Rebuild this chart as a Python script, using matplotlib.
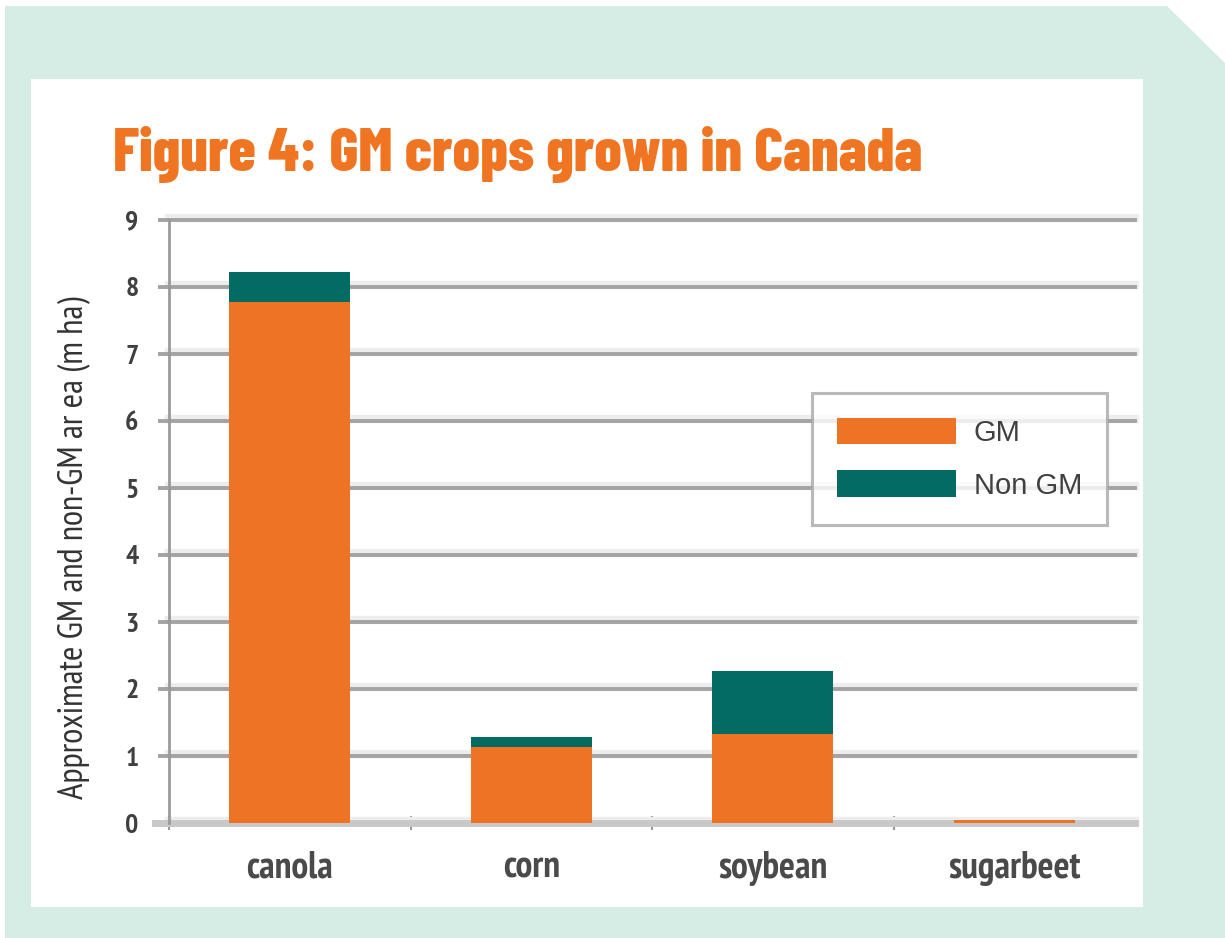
import matplotlib
matplotlib.use("Agg")
import matplotlib.pyplot as plt
import matplotlib.patheffects as pe
from matplotlib.patches import Polygon, Rectangle

W, H = 1225, 938

crops = ["canola", "corn", "soybean", "sugarbeet"]
gm = [7.78, 1.14, 1.33, 0.04]
non_gm = [0.45, 0.14, 0.94, 0.0]
yticks = [0, 1, 2, 3, 4, 5, 6, 7, 8, 9]

ORANGE = "#EF7325"
TEAL = "#046B63"
MINT = "#D6EDE6"
GRID = "#A3A3A3"
TITLE_FONT = ["Barlow Condensed", "DejaVu Sans"]
NARROW = ["PT Sans Narrow", "DejaVu Sans"]


def fx(x):
    return x / W


def fy(y):
    return 1 - y / H


fig = plt.figure(figsize=(W / 100, H / 100), dpi=100, facecolor="white")

# mint frame with the clipped top-right corner, then the white panel
frame = [(5, 6), (1167, 6), (1225, 63), (1225, 938), (5, 938)]
fig.patches.append(Polygon([(fx(x), fy(y)) for x, y in frame], closed=True,
                           transform=fig.transFigure, facecolor=MINT, edgecolor="none", zorder=-2))
fig.patches.append(Rectangle((fx(31), fy(907)), fx(1143) - fx(31), fy(79) - fy(907),
                             transform=fig.transFigure, facecolor="white", edgecolor="none", zorder=-1))

fig.text(fx(113), fy(171), "Figure 4: GM crops grown in Canada", family=TITLE_FONT,
         weight=800, stretch="condensed", fontsize=44, color="#F07522", ha="left", va="baseline")

ax = fig.add_axes([fx(169), fy(823), fx(1135) - fx(169), fy(220) - fy(823)])
ax.set_facecolor("none")

x = range(len(crops))
ax.bar(x, gm, width=0.5, color=ORANGE, label="GM", zorder=3)
ax.bar(x, non_gm, width=0.5, bottom=gm, color=TEAL, label="Non GM", zorder=3)

ax.set_xlim(-0.5, len(crops) - 0.5)
ax.set_ylim(0, 9)
ax.set_yticks(yticks)
ax.set_axisbelow(True)
ax.yaxis.grid(True, color=GRID, lw=2.8)
for ln in ax.get_ygridlines():
    ln.set_clip_on(False)
    ln.set_path_effects([pe.Stroke(linewidth=6, foreground="#EDEDED", offset=(0, 1.5)), pe.Normal()])

# light baseline at zero
ax.axhline(0, xmin=-0.015, xmax=1, color="#C8C8C8", lw=5, clip_on=False, zorder=2)

for side in ["top", "right", "bottom"]:
    ax.spines[side].set_visible(False)
ax.spines["left"].set_color("#9A9A9A")
ax.spines["left"].set_linewidth(2.0)

ax.tick_params(axis="y", length=8, width=2.8, color=GRID, pad=14,
               labelsize=20, labelcolor="#404040")
for lab in ax.get_yticklabels():
    lab.set_family(NARROW)
    lab.set_weight("bold")
    lab.set_stretch("condensed")

ax.set_xticks(list(x))
ax.set_xticklabels(crops, family=NARROW, weight="bold", stretch="condensed", fontsize=27, color="#4A4A4A")
ax.tick_params(axis="x", which="major", length=0, pad=20)
ax.set_xticks([-0.5, 0.5, 1.5, 2.5], minor=True)
ax.tick_params(axis="x", which="minor", direction="inout", length=10, width=1.5, color="#999999")

fig.text(fx(74), fy(548), "Approximate GM and non-GM ar ea (m ha)", family=NARROW, stretch="condensed",
         fontsize=25, color="#333333", rotation=90, ha="center", va="center")

leg = ax.legend(loc="upper left", bbox_to_anchor=(fx(812), fy(393)), bbox_transform=fig.transFigure,
                borderaxespad=0, fancybox=False, frameon=True, edgecolor="#A8A8A8",
                prop={"family": ["Liberation Sans", "DejaVu Sans"], "size": 21},
                handlelength=4.1, handleheight=1.03, labelspacing=0.8, handletextpad=0.6,
                borderpad=0.85)
leg.get_frame().set_linewidth(2.2)
for t in leg.get_texts():
    t.set_color("#404040")

fig.savefig("out.png", dpi=100, facecolor="white")
